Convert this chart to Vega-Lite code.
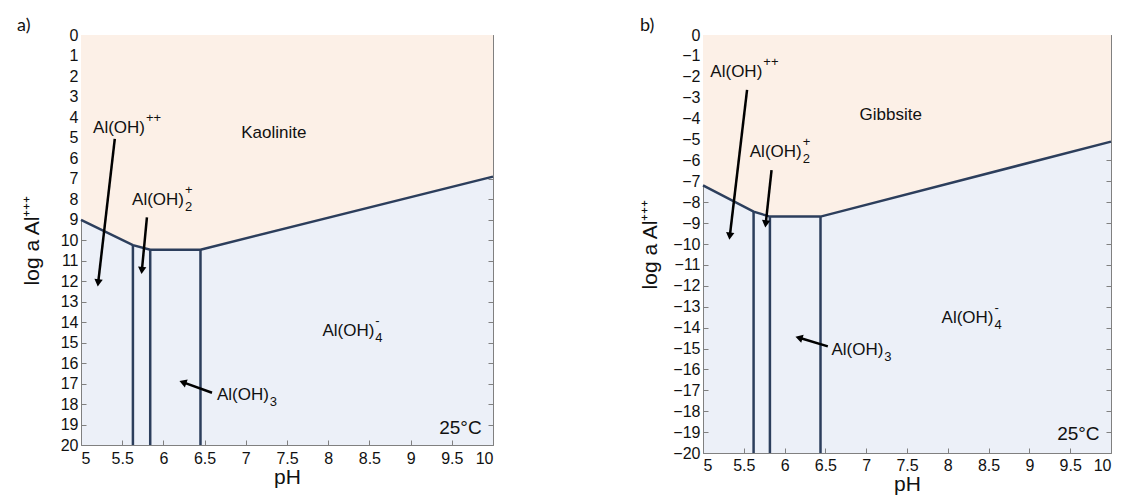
{
  "$schema": "https://vega.github.io/schema/vega-lite/v6.json",
  "padding": {"left": 16, "top": 16, "right": 5, "bottom": 5},
  "spacing": 140,
  "config": {
    "font": "Liberation Sans",
    "view": {"stroke": "#808080", "strokeWidth": 1, "fill": "#ECF0F8"},
    "axis": {"grid": false, "domain": false, "tickColor": "#808080", "tickSize": -5, "tickWidth": 1, "labelFontSize": 16, "labelColor": "#111111", "titleFontSize": 21, "titleFontWeight": "normal", "titleColor": "#111111", "labelPadding": 8},
    "title": {"fontSize": 18, "fontWeight": "normal", "anchor": "start", "frame": "group", "offset": 0, "font": "Lato", "color": "#111111"}
  },
  "datasets": {
    "bndA": [
      {"pH": 5.0, "logAl": 9.02},
      {"pH": 5.63, "logAl": 10.25},
      {"pH": 5.84, "logAl": 10.47},
      {"pH": 6.45, "logAl": 10.47},
      {"pH": 10.0, "logAl": 6.91}
    ],
    "vertA": [
      {"pH": 5.63, "logAl": 10.25},
      {"pH": 5.84, "logAl": 10.47},
      {"pH": 6.45, "logAl": 10.47}
    ],
    "specA": [
      {"pH": 5.777, "logAl": 4.52, "main": "Al(OH)", "sup": "++", "sub": ""},
      {"pH": 6.25, "logAl": 8.05, "main": "Al(OH)", "sup": "+", "sub": "2"},
      {"pH": 8.56, "logAl": 14.45, "main": "Al(OH)", "sup": "-", "sub": "4"},
      {"pH": 7.28, "logAl": 17.56, "main": "Al(OH)", "sup": "", "sub": "3"}
    ],
    "plainA": [{"pH": 7.34, "logAl": 4.76, "text": "Kaolinite"}],
    "tempA": [{"pH": 9.605, "logAl": 19.15, "text": "25°C"}],
    "arrA": [
      {"x1": 5.41, "y1": 5.07, "x2": 5.21, "y2": 12.03},
      {"x1": 5.80, "y1": 8.90, "x2": 5.74, "y2": 11.43},
      {"x1": 6.59, "y1": 17.45, "x2": 6.25, "y2": 16.96}
    ],
    "bndB": [
      {"pH": 5.0, "logAl": -7.2},
      {"pH": 5.62, "logAl": -8.45},
      {"pH": 5.82, "logAl": -8.69},
      {"pH": 6.44, "logAl": -8.69},
      {"pH": 10.0, "logAl": -5.1}
    ],
    "vertB": [
      {"pH": 5.62, "logAl": -8.45},
      {"pH": 5.82, "logAl": -8.69},
      {"pH": 6.44, "logAl": -8.69}
    ],
    "specB": [
      {"pH": 5.727, "logAl": -1.75, "main": "Al(OH)", "sup": "++", "sub": ""},
      {"pH": 6.21, "logAl": -5.58, "main": "Al(OH)", "sup": "+", "sub": "2"},
      {"pH": 8.56, "logAl": -13.56, "main": "Al(OH)", "sup": "-", "sub": "4"},
      {"pH": 7.21, "logAl": -15.07, "main": "Al(OH)", "sup": "", "sub": "3"}
    ],
    "plainB": [{"pH": 7.30, "logAl": -3.83, "text": "Gibbsite"}],
    "tempB": [{"pH": 9.6, "logAl": -19.1, "text": "25°C"}],
    "arrB": [
      {"x1": 5.54, "y1": -2.63, "x2": 5.33, "y2": -9.57},
      {"x1": 5.84, "y1": -6.46, "x2": 5.77, "y2": -8.98},
      {"x1": 6.53, "y1": -14.9, "x2": 6.19, "y2": -14.5}
    ]
  },
  "hconcat": [
    {
      "width": 412,
      "height": 410,
      "title": {"text": "a)", "dx": -64, "dy": 12},
      "resolve": {"axis": {"x": "independent", "y": "independent"}},
      "layer": [
        {
          "data": {"name": "bndA"},
          "mark": {"type": "area", "color": "#FCF0E7", "opacity": 1},
          "encoding": {
            "x": {"field": "pH", "type": "quantitative", "scale": {"domain": [5, 10], "nice": false, "zero": false},
                  "axis": {"orient": "bottom", "values": [5, 5.5, 6, 6.5, 7, 7.5, 8, 8.5, 9, 9.5, 10], "format": "~g", "title": "pH", "labelPadding": 10, "titlePadding": 0}},
            "y": {"field": "logAl", "type": "quantitative", "scale": {"domain": [0, 20], "nice": false, "zero": false, "reverse": true},
                  "axis": {"orient": "left", "values": [0,1,2,3,4,5,6,7,8,9,10,11,12,13,14,15,16,17,18,19,20], "format": "d", "title": "log a Al⁺⁺⁺", "labelPadding": 8, "titlePadding": 18}},
            "y2": {"datum": 0}
          }
        },
        {
          "data": {"name": "bndA"},
          "mark": {"type": "line", "color": "#2C3E5C", "strokeWidth": 2.5},
          "encoding": {
            "x": {"field": "pH", "type": "quantitative", "axis": {"orient": "top", "labels": false, "title": null, "values": [5, 5.5, 6, 6.5, 7, 7.5, 8, 8.5, 9, 9.5, 10]}},
            "y": {"field": "logAl", "type": "quantitative", "axis": {"orient": "right", "labels": false, "title": null, "values": [0,1,2,3,4,5,6,7,8,9,10,11,12,13,14,15,16,17,18,19,20]}}
          }
        },
        {
          "data": {"name": "vertA"},
          "mark": {"type": "rule", "color": "#2C3E5C", "strokeWidth": 2.5},
          "encoding": {
            "x": {"field": "pH", "type": "quantitative", "axis": null},
            "y": {"field": "logAl", "type": "quantitative", "axis": null},
            "y2": {"datum": 20}
          }
        },
        {
          "data": {"name": "arrA"},
          "mark": {"type": "rule", "color": "#000000", "strokeWidth": 2.5},
          "encoding": {
            "x": {"field": "x1", "type": "quantitative", "axis": null},
            "y": {"field": "y1", "type": "quantitative", "axis": null},
            "x2": {"field": "x2"},
            "y2": {"field": "y2"}
          }
        },
        {
          "data": {"name": "arrA"},
          "transform": [{"calculate": "atan2((datum.x2-datum.x1)*82.4, -(datum.y2-datum.y1)*20.5)*180/PI", "as": "ang"}],
          "mark": {"type": "point", "shape": "triangle", "filled": true, "color": "#000000", "size": 70, "opacity": 1},
          "encoding": {
            "x": {"field": "x2", "type": "quantitative", "axis": null},
            "y": {"field": "y2", "type": "quantitative", "axis": null},
            "angle": {"field": "ang", "type": "quantitative", "scale": null}
          }
        },
        {
          "data": {"name": "specA"},
          "mark": {"type": "text", "align": "right", "baseline": "middle", "fontSize": 17, "color": "#111111"},
          "encoding": {
            "x": {"field": "pH", "type": "quantitative", "axis": null},
            "y": {"field": "logAl", "type": "quantitative", "axis": null},
            "text": {"field": "main"}
          }
        },
        {
          "data": {"name": "specA"},
          "mark": {"type": "text", "align": "left", "baseline": "middle", "fontSize": 13, "dx": 1, "dy": -10, "color": "#111111"},
          "encoding": {
            "x": {"field": "pH", "type": "quantitative", "axis": null},
            "y": {"field": "logAl", "type": "quantitative", "axis": null},
            "text": {"field": "sup"}
          }
        },
        {
          "data": {"name": "specA"},
          "mark": {"type": "text", "align": "left", "baseline": "middle", "fontSize": 13, "dx": 1, "dy": 7, "color": "#111111"},
          "encoding": {
            "x": {"field": "pH", "type": "quantitative", "axis": null},
            "y": {"field": "logAl", "type": "quantitative", "axis": null},
            "text": {"field": "sub"}
          }
        },
        {
          "data": {"name": "plainA"},
          "mark": {"type": "text", "align": "center", "baseline": "middle", "fontSize": 17, "color": "#111111"},
          "encoding": {
            "x": {"field": "pH", "type": "quantitative", "axis": null},
            "y": {"field": "logAl", "type": "quantitative", "axis": null},
            "text": {"field": "text"}
          }
        },
        {
          "data": {"name": "tempA"},
          "mark": {"type": "text", "align": "center", "baseline": "middle", "fontSize": 19, "color": "#111111"},
          "encoding": {
            "x": {"field": "pH", "type": "quantitative", "axis": null},
            "y": {"field": "logAl", "type": "quantitative", "axis": null},
            "text": {"field": "text"}
          }
        }
      ]
    },
    {
      "width": 408,
      "height": 418,
      "title": {"text": "b)", "dx": -63, "dy": 12},
      "resolve": {"axis": {"x": "independent", "y": "independent"}},
      "layer": [
        {
          "data": {"name": "bndB"},
          "mark": {"type": "area", "color": "#FCF0E7", "opacity": 1},
          "encoding": {
            "x": {"field": "pH", "type": "quantitative", "scale": {"domain": [5, 10], "nice": false, "zero": false},
                  "axis": {"orient": "bottom", "values": [5, 5.5, 6, 6.5, 7, 7.5, 8, 8.5, 9, 9.5, 10], "format": "~g", "title": "pH", "labelPadding": 9, "titlePadding": 0}},
            "y": {"field": "logAl", "type": "quantitative", "scale": {"domain": [-20, 0], "nice": false, "zero": false},
                  "axis": {"orient": "left", "values": [0,-1,-2,-3,-4,-5,-6,-7,-8,-9,-10,-11,-12,-13,-14,-15,-16,-17,-18,-19,-20], "format": "d", "title": "log a Al⁺⁺⁺", "labelPadding": 8, "titlePadding": 12}},
            "y2": {"datum": 0}
          }
        },
        {
          "data": {"name": "bndB"},
          "mark": {"type": "line", "color": "#2C3E5C", "strokeWidth": 2.5},
          "encoding": {
            "x": {"field": "pH", "type": "quantitative", "axis": {"orient": "top", "labels": false, "title": null, "values": [5, 5.5, 6, 6.5, 7, 7.5, 8, 8.5, 9, 9.5, 10]}},
            "y": {"field": "logAl", "type": "quantitative", "axis": {"orient": "right", "labels": false, "title": null, "values": [0,-1,-2,-3,-4,-5,-6,-7,-8,-9,-10,-11,-12,-13,-14,-15,-16,-17,-18,-19,-20]}}
          }
        },
        {
          "data": {"name": "vertB"},
          "mark": {"type": "rule", "color": "#2C3E5C", "strokeWidth": 2.5},
          "encoding": {
            "x": {"field": "pH", "type": "quantitative", "axis": null},
            "y": {"field": "logAl", "type": "quantitative", "axis": null},
            "y2": {"datum": -20}
          }
        },
        {
          "data": {"name": "arrB"},
          "mark": {"type": "rule", "color": "#000000", "strokeWidth": 2.5},
          "encoding": {
            "x": {"field": "x1", "type": "quantitative", "axis": null},
            "y": {"field": "y1", "type": "quantitative", "axis": null},
            "x2": {"field": "x2"},
            "y2": {"field": "y2"}
          }
        },
        {
          "data": {"name": "arrB"},
          "transform": [{"calculate": "atan2((datum.x2-datum.x1)*81.6, (datum.y2-datum.y1)*20.9)*180/PI", "as": "ang"}],
          "mark": {"type": "point", "shape": "triangle", "filled": true, "color": "#000000", "size": 70, "opacity": 1},
          "encoding": {
            "x": {"field": "x2", "type": "quantitative", "axis": null},
            "y": {"field": "y2", "type": "quantitative", "axis": null},
            "angle": {"field": "ang", "type": "quantitative", "scale": null}
          }
        },
        {
          "data": {"name": "specB"},
          "mark": {"type": "text", "align": "right", "baseline": "middle", "fontSize": 17, "color": "#111111"},
          "encoding": {
            "x": {"field": "pH", "type": "quantitative", "axis": null},
            "y": {"field": "logAl", "type": "quantitative", "axis": null},
            "text": {"field": "main"}
          }
        },
        {
          "data": {"name": "specB"},
          "mark": {"type": "text", "align": "left", "baseline": "middle", "fontSize": 13, "dx": 1, "dy": -10, "color": "#111111"},
          "encoding": {
            "x": {"field": "pH", "type": "quantitative", "axis": null},
            "y": {"field": "logAl", "type": "quantitative", "axis": null},
            "text": {"field": "sup"}
          }
        },
        {
          "data": {"name": "specB"},
          "mark": {"type": "text", "align": "left", "baseline": "middle", "fontSize": 13, "dx": 1, "dy": 7, "color": "#111111"},
          "encoding": {
            "x": {"field": "pH", "type": "quantitative", "axis": null},
            "y": {"field": "logAl", "type": "quantitative", "axis": null},
            "text": {"field": "sub"}
          }
        },
        {
          "data": {"name": "plainB"},
          "mark": {"type": "text", "align": "center", "baseline": "middle", "fontSize": 17, "color": "#111111"},
          "encoding": {
            "x": {"field": "pH", "type": "quantitative", "axis": null},
            "y": {"field": "logAl", "type": "quantitative", "axis": null},
            "text": {"field": "text"}
          }
        },
        {
          "data": {"name": "tempB"},
          "mark": {"type": "text", "align": "center", "baseline": "middle", "fontSize": 19, "color": "#111111"},
          "encoding": {
            "x": {"field": "pH", "type": "quantitative", "axis": null},
            "y": {"field": "logAl", "type": "quantitative", "axis": null},
            "text": {"field": "text"}
          }
        }
      ]
    }
  ]
}
